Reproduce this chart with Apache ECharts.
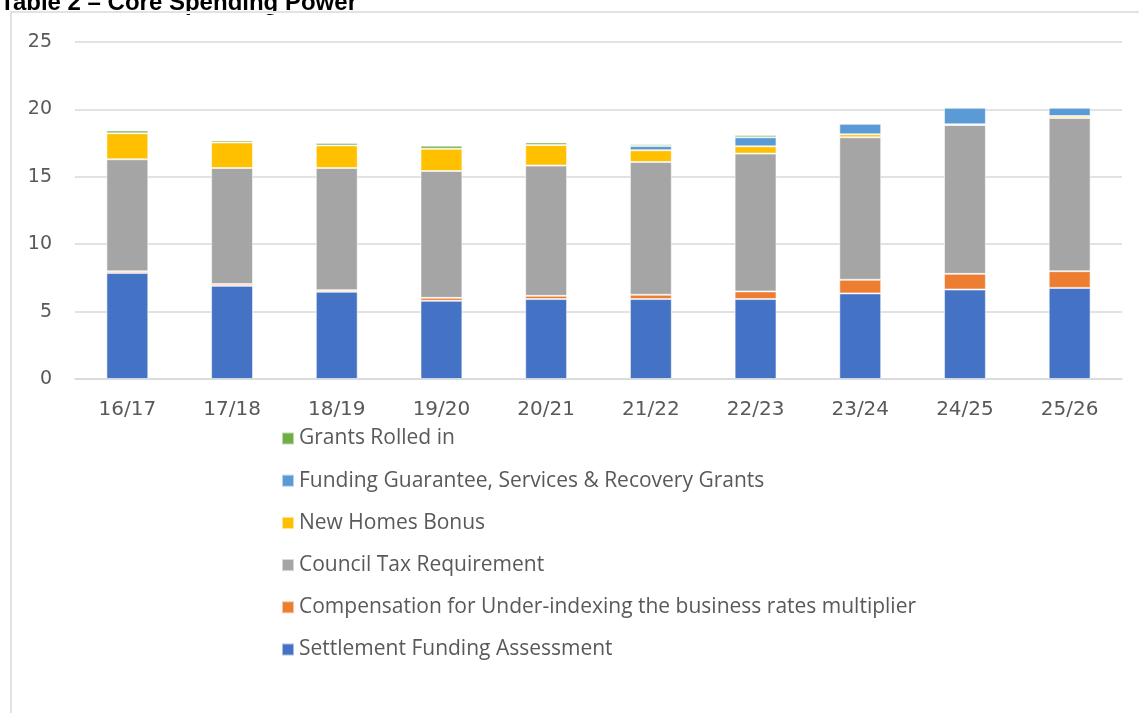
<!DOCTYPE html>
<html>
<head>
<meta charset="utf-8">
<script src="https://cdn.jsdelivr.net/npm/echarts@6/dist/echarts.min.js"></script>
<style>
html,body{margin:0;padding:0;background:#fff;}
#c{width:1139px;height:713px;}
</style>
</head>
<body>
<div id="c"></div>
<script>
const categories = ['16/17','17/18','18/19','19/20','20/21','21/22','22/23','23/24','24/25','25/26'];
const settlementFunding = [7.87, 6.91, 6.47, 5.80, 5.93, 5.93, 5.93, 6.35, 6.64, 6.76];
const compensation      = [0.12, 0.13, 0.12, 0.22, 0.24, 0.32, 0.57, 1.01, 1.16, 1.24];
const councilTax        = [8.31, 8.61, 9.06, 9.41, 9.66, 9.85, 10.22, 10.57, 11.04, 11.36];
const newHomesBonus     = [1.93, 1.90, 1.68, 1.66, 1.53, 0.87, 0.54, 0.22, 0.05, 0.15];
const fundingGuarantee  = [0, 0, 0, 0, 0, 0.32, 0.67, 0.79, 1.24, 0.62];
const grantsRolledIn    = [0.20, 0.15, 0.17, 0.22, 0.18, 0.13, 0.17, 0, 0, 0];
const yTicks = [0, 5, 10, 15, 20, 25];

const seriesDefs = [
  ['Settlement Funding Assessment', settlementFunding, '#4472C4'],
  ['Compensation for Under-indexing the business rates multiplier', compensation, '#ED7D31'],
  ['Council Tax Requirement', councilTax, '#A5A5A5'],
  ['New Homes Bonus', newHomesBonus, '#FFC000'],
  ['Funding Guarantee, Services & Recovery Grants', fundingGuarantee, '#5B9BD5'],
  ['Grants Rolled in', grantsRolledIn, '#70AD47']
];

const chart = echarts.init(document.getElementById('c'));
chart.setOption({
  animation: false,
  backgroundColor: '#fff',
  graphic: [
    {type:'text', left:0, top:-9, z:1, style:{text:'Table 2 \u2013 Core Spending Power', font:'bold 24px "Liberation Sans", Arial, sans-serif', fill:'#000'}},
    {type:'rect', z:2, shape:{x:0, y:11, width:1139, height:3}, style:{fill:'#fff'}},
    {type:'rect', z:3, shape:{x:11, y:12, width:1140, height:720}, style:{fill:'none', stroke:'#d9d9d9', lineWidth:1.5}}
  ],
  grid: {left:75, right:17, top:42, bottom:334, containLabel:false},
  xAxis: {
    type:'category', data:categories,
    axisLine:{lineStyle:{color:'#d9d9d9', width:1.5}},
    axisTick:{show:false},
    axisLabel:{color:'#595959', fontSize:20, fontFamily:'DejaVu Sans', margin:21}
  },
  yAxis: {
    type:'value', min:yTicks[0], max:yTicks[yTicks.length-1], interval:5,
    axisLine:{show:false}, axisTick:{show:false},
    axisLabel:{color:'#595959', fontSize:19, fontFamily:'DejaVu Sans', margin:23},
    splitLine:{lineStyle:{color:'#d9d9d9', width:1.5}}
  },
  legend: {
    orient:'vertical', left:276, top:423,
    itemWidth:12, itemHeight:12, itemGap:21.2, icon:'rect',
    textStyle:{color:'#595959', fontSize:21, fontFamily:'Open Sans', lineHeight:21, padding:[0,0,0,0]},
    data: seriesDefs.map(s=>s[0]).reverse()
  },
  series: seriesDefs.map(([name, data, color]) => ({
    name, type:'bar', stack:'total', data, barWidth:'40%',
    itemStyle:{color, borderColor:'rgba(255,255,255,0.55)', borderWidth:1}
  }))
});
</script>
</body>
</html>
